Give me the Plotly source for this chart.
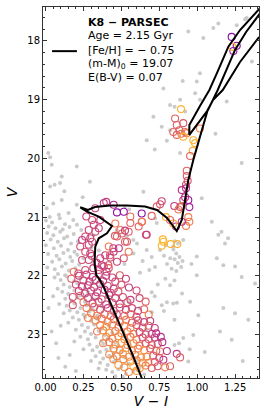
import plotly.graph_objects as go

# ---------------- isochrone (V-I, V) ----------------
iso_x = [0.656, 0.634, 0.575, 0.513, 0.44, 0.385, 0.359, 0.335, 0.326, 0.324, 0.328, 0.351, 0.405, 0.438,
         0.351, 0.274, 0.229, 0.280, 0.326, 0.425, 0.537, 0.656, 0.735, 0.801, 0.865,
         0.898, 0.920, 0.941, 0.974, 1.005, 1.032, 1.055, 1.069, 1.104, 1.168, 1.282, 1.403, 1.513, 1.678,
         1.480, 1.403, 1.282, 1.205, 1.129, 1.080, 1.018, 0.948, 0.948,
         1.018, 1.071, 1.135, 1.190, 1.249, 1.322, 1.403, 1.480]
iso_v = [23.98, 23.741, 23.35, 22.974, 22.52, 22.2, 22.072, 21.99, 21.85, 21.731, 21.504, 21.361, 21.276, 21.152,
         20.993, 20.908, 20.833, 20.879, 20.828, 20.802, 20.802, 20.819, 20.879, 21.015, 21.237,
         21.049, 20.709, 20.368, 20.027, 19.738, 19.516, 19.312, 19.175, 19.005, 18.835, 18.358, 17.949, 17.727, 17.47,
         17.216, 17.472, 17.813, 18.097, 18.550, 18.835, 19.107, 19.431, 19.601,
         19.363, 19.175, 18.835, 18.494, 18.153, 17.847, 17.557, 17.30]

# ---------------- field stars (grey) ----------------
gray_upper = [(1.139, 17.70), (0.941, 17.84), (1.326, 17.61), (1.106, 17.78), (1.260, 17.73), (1.315, 17.63),
              (1.040, 17.95), (1.194, 19.03), (0.777, 18.81), (0.904, 18.68), (0.997, 18.69), (1.018, 18.55),
              (0.986, 18.89), (0.887, 19.00), (0.711, 19.29), (0.920, 19.20), (0.766, 19.46), (0.821, 19.52),
              (1.018, 19.00), (0.667, 19.69), (0.821, 19.09), (0.850, 19.12), (0.887, 19.91), (0.80, 19.70),
              (0.72, 19.85), (1.12, 19.58), (1.36, 18.35)]
gray_left = [(0.018, 19.91), (0.030, 19.98), (0.041, 20.11), (0.107, 20.31), (0.096, 20.42), (0.030, 20.48),
             (0.060, 20.45), (0.293, 20.40), (0.206, 20.14), (0.008, 20.85), (0.051, 20.77), (0.107, 20.71),
             (0.206, 20.79), (0.152, 20.93), (0.028, 21.00), (0.088, 20.96), (0.245, 20.66), (0.124, 20.56),
             (0.645, 20.57), (0.003, 21.06), (0.043, 21.09), (0.094, 21.02), (0.128, 21.12), (0.183, 21.05),
             (0.021, 21.16), (0.066, 21.19), (0.113, 21.21), (0.158, 21.17), (0.207, 21.13), (0.011, 21.27),
             (0.052, 21.31), (0.097, 21.25), (0.143, 21.33), (0.186, 21.29), (0.034, 21.38), (0.081, 21.42),
             (0.122, 21.36), (0.168, 21.45), (0.214, 21.41), (0.002, 21.48), (0.055, 21.53), (0.102, 21.49),
             (0.148, 21.56), (0.191, 21.59), (0.017, 21.63), (0.073, 21.66), (0.118, 21.61), (0.163, 21.68),
             (0.209, 21.64), (0.044, 21.76), (0.091, 21.72), (0.133, 21.79), (0.176, 21.75), (0.222, 21.81),
             (0.012, 21.86), (0.061, 21.89), (0.108, 21.84), (0.154, 21.91), (0.197, 21.87), (0.082, 21.97),
             (0.129, 21.99), (0.302, 21.52), (0.352, 21.57), (0.318, 21.31), (0.236, 21.22), (0.25, 21.70)]
gray_mid = [(0.524, 20.82), (0.552, 20.87), (0.722, 21.02), (0.733, 21.10), (0.469, 21.22), (0.535, 21.33),
            (0.579, 21.39), (0.603, 21.45), (0.667, 21.56), (0.755, 21.56), (0.792, 21.48), (0.842, 21.50),
            (0.853, 21.41), (0.874, 21.45), (0.908, 21.39), (0.843, 21.55), (0.862, 21.62), (0.883, 21.68),
            (0.851, 21.72), (0.872, 21.78), (0.894, 21.85), (0.831, 21.88), (0.862, 21.92), (0.903, 21.75),
            (0.822, 21.70), (0.801, 21.80), (0.781, 21.66), (0.623, 21.95), (0.684, 21.90), (0.722, 21.85),
            (0.997, 21.67), (0.962, 21.80), (1.030, 20.68), (1.096, 21.08), (1.139, 21.30), (1.183, 21.45),
            (1.293, 20.08), (1.249, 21.84), (1.129, 21.70), (1.172, 21.82), (1.160, 21.25), (1.203, 21.36),
            (0.58, 21.62), (0.64, 21.75), (0.52, 21.80), (0.70, 21.68)]
gray_ms = [(0.06, 22.03), (0.10, 22.07), (0.14, 22.01), (0.19, 22.09), (0.23, 22.04), (0.31, 22.12), (0.12, 22.15),
           (0.16, 22.19), (0.21, 22.13), (0.08, 22.22), (0.26, 22.20), (0.36, 22.18), (0.11, 22.27), (0.15, 22.31),
           (0.19, 22.25), (0.23, 22.33), (0.28, 22.28), (0.05, 22.35), (0.13, 22.39), (0.17, 22.42), (0.21, 22.37),
           (0.26, 22.44), (0.32, 22.40), (0.40, 22.36), (0.09, 22.48), (0.14, 22.51), (0.19, 22.47), (0.23, 22.55),
           (0.27, 22.50), (0.31, 22.57), (0.37, 22.52), (0.16, 22.59), (0.21, 22.62), (0.25, 22.66), (0.29, 22.61),
           (0.34, 22.68), (0.12, 22.64), (0.44, 22.63), (0.18, 22.71), (0.22, 22.75), (0.26, 22.70), (0.30, 22.77),
           (0.34, 22.73), (0.39, 22.79), (0.15, 22.80), (0.24, 22.84), (0.28, 22.88), (0.32, 22.83), (0.37, 22.90),
           (0.42, 22.86), (0.47, 22.81), (0.20, 22.92), (0.26, 22.95), (0.30, 22.99), (0.35, 22.94), (0.39, 23.01),
           (0.44, 22.97), (0.23, 23.04), (0.28, 23.08), (0.33, 23.05), (0.37, 23.11), (0.41, 23.07), (0.46, 23.13),
           (0.51, 23.03), (0.19, 23.12), (0.29, 23.17), (0.34, 23.21), (0.38, 23.16), (0.43, 23.23), (0.48, 23.19),
           (0.31, 23.27), (0.36, 23.30), (0.40, 23.26), (0.45, 23.32), (0.50, 23.28), (0.55, 23.22), (0.25, 23.25),
           (0.33, 23.37), (0.38, 23.41), (0.42, 23.36), (0.47, 23.44), (0.52, 23.39), (0.57, 23.35), (0.36, 23.48),
           (0.41, 23.52), (0.45, 23.47), (0.50, 23.55), (0.55, 23.50), (0.60, 23.45), (0.30, 23.45), (0.40, 23.60),
           (0.44, 23.64), (0.48, 23.59), (0.53, 23.67), (0.58, 23.62), (0.62, 23.56), (0.46, 23.71), (0.51, 23.72),
           (0.35, 23.58), (0.65, 23.68), (0.02, 22.55), (0.04, 22.95), (0.085, 23.40), (0.13, 23.55), (0.10, 22.85),
           (0.07, 23.15), (0.16, 23.35), (0.20, 23.62), (0.55, 22.45), (0.62, 22.55), (0.58, 22.72), (0.66, 22.92),
           (0.70, 22.62)]
gray_red = [(0.997, 21.99), (0.953, 22.44), (1.007, 22.67), (1.172, 22.55), (1.249, 22.64), (1.337, 22.75),
            (1.381, 22.13), (1.293, 22.02), (1.150, 22.95), (1.227, 23.09), (0.974, 23.01), (0.908, 23.06),
            (0.941, 23.46), (0.842, 22.47), (0.866, 22.46), (0.800, 22.45), (0.766, 22.50), (0.821, 22.16),
            (0.740, 22.15), (0.790, 22.05), (0.850, 22.08), (0.720, 22.35), (0.700, 22.28), (0.900, 22.30),
            (0.880, 23.15), (0.850, 23.18), (1.050, 23.30), (1.300, 23.45), (0.850, 22.75), (0.780, 22.60),
            (0.950, 23.25)]

# ---------------- cluster members (V-I, V, colour value) ----------------
mem_upper = [(1.227, 17.93, 0.30), (1.260, 18.08, 0.30), (1.238, 18.17, 0.33), (1.231, 18.10, 0.88)]
mem_clump = [(0.893, 19.16, 0.88), (0.854, 19.32, 0.62), (0.865, 19.43, 0.62), (0.842, 19.55, 0.64),
             (0.908, 19.40, 0.60), (0.882, 19.52, 0.62), (0.920, 19.55, 0.66), (0.865, 19.60, 0.63),
             (0.895, 19.58, 0.66), (0.931, 19.57, 0.70), (1.018, 19.49, 0.72), (0.908, 19.63, 0.86),
             (0.974, 19.69, 0.86), (0.986, 19.74, 0.88), (0.970, 19.87, 0.85), (0.953, 19.96, 0.62)]
mem_rgb = [(0.931, 20.21, 0.62), (0.931, 20.30, 0.60), (0.937, 20.38, 0.58), (0.926, 20.45, 0.55),
           (0.926, 20.51, 0.45), (0.898, 20.54, 0.45), (0.920, 20.66, 0.45), (0.908, 20.71, 0.48),
           (0.941, 20.71, 0.35), (0.948, 20.83, 0.38), (0.898, 20.81, 0.70), (0.887, 20.83, 0.62),
           (0.849, 20.81, 0.48), (0.876, 20.87, 0.68), (0.766, 20.73, 0.52), (0.755, 20.78, 0.58),
           (0.733, 20.82, 0.60), (0.941, 21.00, 0.72), (0.948, 21.08, 0.72), (0.926, 21.15, 0.70),
           (0.898, 21.08, 0.45), (0.860, 21.16, 0.48), (0.842, 21.11, 0.85), (0.794, 21.00, 0.85),
           (0.821, 21.05, 0.64), (0.773, 21.38, 0.88), (0.778, 21.42, 0.88), (0.766, 21.49, 0.88),
           (0.825, 21.46, 0.86), (0.869, 21.46, 0.86), (0.634, 20.94, 0.30), (0.634, 21.08, 0.70),
           (0.662, 21.30, 0.55), (0.700, 20.98, 0.62)]
mem_sgb = [(0.328, 20.85, 0.50), (0.384, 20.76, 0.48), (0.400, 20.74, 0.50), (0.449, 20.79, 0.40),
           (0.269, 20.99, 0.50), (0.307, 21.05, 0.55), (0.361, 21.05, 0.50), (0.318, 21.13, 0.52),
           (0.351, 21.19, 0.50), (0.285, 21.22, 0.52), (0.328, 21.25, 0.55), (0.262, 21.33, 0.55),
           (0.295, 21.36, 0.50), (0.241, 21.39, 0.48), (0.307, 21.42, 0.55), (0.229, 21.50, 0.55),
           (0.285, 21.47, 0.52), (0.262, 21.59, 0.55), (0.295, 21.62, 0.50), (0.241, 21.73, 0.55),
           (0.285, 21.73, 0.52), (0.361, 21.70, 0.50), (0.394, 21.65, 0.50), (0.427, 21.69, 0.52),
           (0.449, 21.59, 0.48), (0.417, 21.50, 0.70), (0.483, 21.53, 0.48), (0.548, 21.59, 0.70),
           (0.516, 21.70, 0.58), (0.471, 21.76, 0.52), (0.384, 21.84, 0.55), (0.417, 21.87, 0.60),
           (0.351, 21.90, 0.52), (0.262, 21.90, 0.55), (0.186, 21.93, 0.68), (0.460, 21.11, 0.70),
           (0.493, 21.22, 0.68), (0.471, 21.33, 0.62), (0.504, 21.28, 0.60), (0.559, 20.99, 0.65),
           (0.559, 21.10, 0.62), (0.636, 21.08, 0.70), (0.614, 21.16, 0.62), (0.548, 21.25, 0.62),
           (0.537, 21.42, 0.60), (0.516, 20.91, 0.32), (0.471, 20.92, 0.32), (0.524, 21.23, 0.50),
           (0.458, 21.32, 0.60), (0.524, 21.42, 0.62), (0.447, 21.53, 0.50), (0.425, 21.65, 0.60),
           (0.414, 21.82, 0.60), (0.403, 21.93, 0.50), (0.216, 21.96, 0.55), (0.337, 21.78, 0.52),
           (0.304, 21.66, 0.55), (0.370, 21.82, 0.50), (0.315, 21.87, 0.50), (0.667, 21.30, 0.50)]
mem_ms = [(0.22, 22.00, 0.50), (0.27, 21.98, 0.52), (0.31, 22.02, 0.48), (0.35, 21.97, 0.55), (0.40, 22.00, 0.50),
          (0.44, 22.03, 0.52), (0.49, 21.99, 0.60), (0.53, 22.05, 0.50), (0.25, 22.08, 0.55), (0.33, 22.07, 0.50),
          (0.38, 22.09, 0.48), (0.46, 22.10, 0.55), (0.17, 22.05, 0.62), (0.29, 22.10, 0.52),
          (0.20, 22.15, 0.55), (0.24, 22.18, 0.50), (0.28, 22.16, 0.48), (0.32, 22.20, 0.52), (0.36, 22.14, 0.50),
          (0.41, 22.17, 0.55), (0.45, 22.22, 0.50), (0.50, 22.15, 0.58), (0.55, 22.20, 0.50), (0.22, 22.26, 0.52),
          (0.30, 22.25, 0.55), (0.34, 22.28, 0.50), (0.39, 22.24, 0.48), (0.43, 22.29, 0.52), (0.48, 22.27, 0.60),
          (0.60, 22.25, 0.55), (0.26, 22.30, 0.50),
          (0.18, 22.36, 0.55), (0.23, 22.34, 0.60), (0.28, 22.38, 0.52), (0.33, 22.35, 0.50), (0.37, 22.40, 0.55),
          (0.42, 22.33, 0.50), (0.46, 22.38, 0.52), (0.51, 22.36, 0.55), (0.56, 22.41, 0.50), (0.62, 22.38, 0.55),
          (0.25, 22.45, 0.65), (0.31, 22.47, 0.52), (0.35, 22.44, 0.55), (0.40, 22.49, 0.50), (0.44, 22.46, 0.58),
          (0.49, 22.48, 0.50), (0.54, 22.45, 0.60), (0.66, 22.44, 0.62),
          (0.18, 22.50, 0.58), (0.27, 22.55, 0.68), (0.32, 22.53, 0.62), (0.36, 22.58, 0.55), (0.41, 22.55, 0.50),
          (0.45, 22.60, 0.55), (0.49, 22.54, 0.60), (0.53, 22.58, 0.52), (0.57, 22.55, 0.55), (0.61, 22.60, 0.50),
          (0.65, 22.57, 0.62), (0.30, 22.64, 0.72), (0.34, 22.68, 0.70), (0.39, 22.65, 0.62), (0.43, 22.69, 0.68),
          (0.47, 22.66, 0.55), (0.52, 22.68, 0.60), (0.56, 22.65, 0.65), (0.60, 22.70, 0.58), (0.68, 22.66, 0.70),
          (0.28, 22.72, 0.72), (0.33, 22.76, 0.75), (0.37, 22.73, 0.70), (0.41, 22.78, 0.72), (0.45, 22.74, 0.62),
          (0.49, 22.79, 0.68), (0.53, 22.75, 0.72), (0.57, 22.80, 0.62), (0.61, 22.76, 0.55), (0.65, 22.79, 0.52),
          (0.69, 22.77, 0.50), (0.36, 22.84, 0.72), (0.40, 22.87, 0.78), (0.44, 22.83, 0.74), (0.48, 22.88, 0.70),
          (0.52, 22.85, 0.72), (0.56, 22.89, 0.76), (0.60, 22.84, 0.60), (0.64, 22.88, 0.55), (0.68, 22.85, 0.62),
          (0.72, 22.89, 0.50),
          (0.34, 22.95, 0.70), (0.38, 22.93, 0.75), (0.42, 22.97, 0.78), (0.46, 22.94, 0.72), (0.50, 22.98, 0.76),
          (0.54, 22.95, 0.70), (0.58, 22.99, 0.72), (0.62, 22.96, 0.55), (0.66, 23.00, 0.58), (0.70, 22.99, 0.48),
          (0.73, 22.98, 0.45), (0.40, 23.04, 0.78), (0.44, 23.07, 0.72), (0.48, 23.03, 0.75), (0.52, 23.08, 0.78),
          (0.56, 23.04, 0.70), (0.60, 23.09, 0.72), (0.64, 23.05, 0.55), (0.68, 23.08, 0.60), (0.72, 23.05, 0.50),
          (0.76, 23.04, 0.45),
          (0.38, 23.15, 0.72), (0.42, 23.13, 0.70), (0.46, 23.17, 0.76), (0.50, 23.14, 0.80), (0.54, 23.18, 0.72),
          (0.58, 23.15, 0.78), (0.62, 23.19, 0.70), (0.66, 23.15, 0.58), (0.70, 23.18, 0.62), (0.74, 23.16, 0.55),
          (0.77, 23.13, 0.45), (0.45, 23.24, 0.78), (0.49, 23.27, 0.72), (0.53, 23.23, 0.80), (0.57, 23.28, 0.74),
          (0.61, 23.24, 0.72), (0.65, 23.27, 0.78), (0.69, 23.24, 0.60), (0.73, 23.28, 0.62), (0.755, 23.29, 0.72),
          (0.80, 23.28, 0.45),
          (0.42, 23.34, 0.75), (0.47, 23.37, 0.72), (0.51, 23.33, 0.80), (0.55, 23.38, 0.76), (0.59, 23.35, 0.72),
          (0.63, 23.39, 0.80), (0.667, 23.38, 0.74), (0.71, 23.36, 0.62), (0.75, 23.40, 0.55), (0.777, 23.43, 0.45),
          (0.865, 23.33, 0.48), (0.887, 23.39, 0.62), (0.447, 23.42, 0.76), (0.513, 23.42, 0.74), (0.56, 23.46, 0.78),
          (0.60, 23.44, 0.72), (0.641, 23.48, 0.76), (0.678, 23.48, 0.74), (0.72, 23.47, 0.60),
          (0.48, 23.52, 0.80), (0.52, 23.56, 0.76), (0.579, 23.54, 0.88), (0.62, 23.58, 0.78), (0.66, 23.53, 0.74),
          (0.70, 23.57, 0.62), (0.74, 23.54, 0.58), (0.788, 23.56, 0.72), (0.821, 23.54, 0.62), (0.60, 23.62, 0.80),
          (0.55, 23.64, 0.74)]

# ---------------- text ----------------
title_txt = "<b>K8 − PARSEC</b>"
info_lines = ["Age = 2.15 Gyr", "[Fe/H] = − 0.75", "(m-M)<sub>0</sub> = 19.07", "E(B-V) = 0.07"]
x_ticks = [0.0, 0.25, 0.5, 0.75, 1.0, 1.25]
y_ticks = [18, 19, 20, 21, 22, 23]

gray_all = gray_upper + gray_left + gray_mid + gray_ms + gray_red
mem_all = mem_upper + mem_clump + mem_rgb + mem_sgb + mem_ms

FONT = "DejaVu Sans"
fig = go.Figure()
fig.add_trace(go.Scatter(
    x=[p[0] for p in gray_all], y=[p[1] for p in gray_all], mode="markers",
    marker=dict(size=4, color="#cacaca", line=dict(width=0)), hoverinfo="skip"))
fig.add_trace(go.Scatter(
    x=[p[0] for p in mem_all], y=[p[1] for p in mem_all], mode="markers",
    marker=dict(symbol="circle-open", size=7, color=[p[2] for p in mem_all],
                colorscale="Plasma", cmin=0, cmax=1.05, line=dict(width=1.1))))
fig.add_trace(go.Scatter(x=iso_x, y=iso_v, mode="lines",
                         line=dict(color="black", width=2)))

axis_common = dict(showline=True, linecolor="#333", linewidth=1, mirror="allticks",
                   ticks="inside", ticklen=4, tickwidth=1, tickcolor="#333",
                   showgrid=False, zeroline=False,
                   tickfont=dict(family=FONT, size=10, color="black"))
fig.update_xaxes(range=[-0.0165, 1.407], tickvals=x_ticks, tickformat=".2f",
                 minor=dict(ticks="inside", ticklen=2, dtick=0.05, tick0=0, tickcolor="#333"),
                 title=dict(text="<i>V</i> − <i>I</i>", font=dict(family=FONT, size=14, color="black"),
                            standoff=2),
                 **axis_common)
fig.update_yaxes(range=[23.741, 17.421], tickvals=y_ticks,
                 minor=dict(ticks="inside", ticklen=2, dtick=0.2, tick0=0, tickcolor="#333"),
                 title=dict(text="<i>V</i>", font=dict(family=FONT, size=14, color="black"),
                            standoff=6),
                 **axis_common)

ys = [0.957, 0.9245, 0.884, 0.846, 0.811]
fig.add_annotation(x=0.199, y=ys[0], xref="paper", yref="paper", text=title_txt, showarrow=False,
                   xanchor="left", yanchor="middle", font=dict(family=FONT, size=11, color="black"))
for t, yy in zip(info_lines, ys[1:]):
    fig.add_annotation(x=0.199, y=yy, xref="paper", yref="paper", text=t, showarrow=False,
                       xanchor="left", yanchor="middle", font=dict(family=FONT, size=11, color="black"))
fig.add_shape(type="line", xref="paper", yref="paper", x0=0.042, x1=0.157, y0=0.881, y1=0.881,
              line=dict(color="black", width=2))

fig.update_layout(width=266, height=415, margin=dict(l=43, r=7, t=7, b=37, autoexpand=False),
                  plot_bgcolor="white", paper_bgcolor="white", showlegend=False,
                  font=dict(family=FONT))
fig.write_html("out.html", config={"displayModeBar": False},
               post_script="document.body.style.margin='0';document.body.style.overflow='hidden';")
